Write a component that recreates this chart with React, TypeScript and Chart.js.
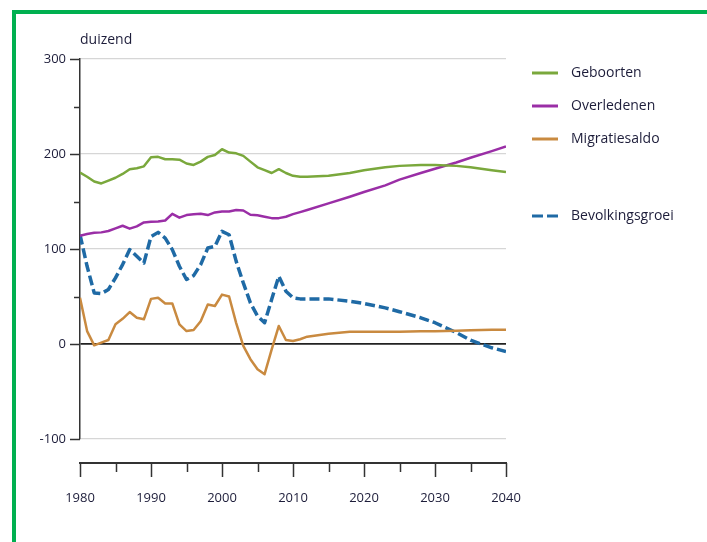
import React, { useEffect, useRef } from "react";
import { Chart, registerables } from "chart.js";

Chart.register(...registerables);

const years = [
  1980, 1981, 1982, 1983, 1984, 1985, 1986, 1987, 1988, 1989,
  1990, 1991, 1992, 1993, 1994, 1995, 1996, 1997, 1998, 1999,
  2000, 2001, 2002, 2003, 2004, 2005, 2006, 2007, 2008, 2009,
  2010, 2011, 2012, 2015, 2018, 2020, 2023, 2025, 2028, 2030,
  2033, 2035, 2038, 2040,
];

const geboorten = [
  180.5, 176, 171, 169, 172, 175, 179, 184, 185, 187,
  196.5, 197, 194.5, 194.5, 194, 190, 188.5, 192, 197, 199,
  205, 201.5, 200.7, 198, 192, 186, 183, 180, 184, 180,
  177, 176, 176, 177, 180, 183, 186, 187.5, 188.5, 188.5,
  187.5, 186, 183, 181,
];

const overledenen = [
  114, 115.7, 117, 117.5, 119, 121.7, 124.5, 121.4, 123.8, 128,
  128.7, 129, 130, 137, 133, 135.7, 136.5, 137, 135.7, 138.5,
  139.5, 139.5, 141, 140.5, 136, 135.5, 134, 132.5, 132.5, 134,
  136.7, 138.8, 141, 148, 155, 160, 167, 173, 180, 184.5,
  191, 196, 203, 208,
];

const migratiesaldo = [
  48.6, 13.6, -1.4, 1.4, 4.2, 20.7, 26.5, 33.6, 27.6, 26,
  47.5, 48.6, 42.7, 42.7, 20.7, 13.6, 14.7, 24, 41.6, 40,
  52, 50, 22, -2, -16, -26.5, -31.8, -5.6, 19, 4.2,
  3.1, 5, 7.7, 10.8, 13, 13, 13, 13, 13.5, 13.5,
  14, 14.5, 15, 15,
];

const bevolkingsgroei = [
  115, 81.8, 53.8, 53, 57.4, 69.6, 83.6, 99.4, 92.3, 85.3,
  113, 117.5, 111.5, 99.4, 81.8, 67.9, 72, 83.6, 101, 102.8,
  118.6, 115, 87, 64.3, 43.3, 29.4, 22.4, 47, 71.4, 55.6,
  48.6, 47.5, 47.5, 47.5, 45, 42.7, 38, 34, 27.6, 22.4,
  12, 4, -4, -8,
];

const seriesNames = ["Geboorten", "Overledenen", "Migratiesaldo", "Bevolkingsgroei"];
const colors = ["#7aa83c", "#9a2ea6", "#c98a40", "#1f6aa5"];
const yTicks = [-100, 0, 100, 200, 300];
const yMinorTicks = [50, 150, 250];
const xTicks = [1980, 1990, 2000, 2010, 2020, 2030, 2040];
const xMinorTicks = [1985, 1995, 2005, 2015, 2025, 2035];
const unitLabel = "duizend";

const TEXT = "#1d1d3a";
const FONT = "'Open Sans', sans-serif";

const toPoints = (vals: number[]) => years.map((y, i) => ({ x: y, y: vals[i] }));

const axesPlugin = {
  id: "customAxes",
  beforeDatasetsDraw(chart: any) {
    const { ctx, chartArea, scales } = chart;
    const xs = scales.x;
    const ys = scales.y;
    ctx.save();
    ctx.strokeStyle = "#333";
    ctx.lineWidth = 1.5;
    for (const v of yTicks) {
      const p = Math.round(ys.getPixelForValue(v)) + 0.5;
      ctx.beginPath();
      ctx.moveTo(chartArea.left - 10, p);
      ctx.lineTo(chartArea.left, p);
      ctx.stroke();
    }
    for (const v of yMinorTicks) {
      const p = Math.round(ys.getPixelForValue(v)) + 0.5;
      ctx.beginPath();
      ctx.moveTo(chartArea.left - 6, p);
      ctx.lineTo(chartArea.left, p);
      ctx.stroke();
    }
    const ax = chartArea.bottom + 24;
    ctx.lineWidth = 2;
    ctx.beginPath();
    ctx.moveTo(xs.getPixelForValue(1980) - 1, ax);
    ctx.lineTo(xs.getPixelForValue(2040) + 1, ax);
    ctx.stroke();
    ctx.lineWidth = 1.5;
    for (const v of xTicks) {
      const p = Math.round(xs.getPixelForValue(v)) + 0.5;
      ctx.beginPath();
      ctx.moveTo(p, ax);
      ctx.lineTo(p, ax + 14);
      ctx.stroke();
    }
    for (const v of xMinorTicks) {
      const p = Math.round(xs.getPixelForValue(v)) + 0.5;
      ctx.beginPath();
      ctx.moveTo(p, ax);
      ctx.lineTo(p, ax + 9);
      ctx.stroke();
    }
    ctx.fillStyle = TEXT;
    ctx.font = `14px ${FONT}`;
    ctx.textAlign = "left";
    ctx.textBaseline = "middle";
    ctx.fillText(unitLabel, chartArea.left, 40);
    ctx.restore();
  },
  afterDraw(chart: any) {
    const { ctx } = chart;
    const rows = [73, 106, 139, 216];
    ctx.save();
    ctx.font = `14px ${FONT}`;
    ctx.textBaseline = "middle";
    ctx.textAlign = "left";
    seriesNames.forEach((name, i) => {
      const y = rows[i];
      ctx.strokeStyle = colors[i];
      ctx.lineWidth = 3;
      ctx.beginPath();
      if (i === 3) {
        ctx.moveTo(532, y);
        ctx.lineTo(543, y);
        ctx.moveTo(547, y);
        ctx.lineTo(558, y);
      } else {
        ctx.moveTo(532, y);
        ctx.lineTo(558, y);
      }
      ctx.stroke();
      ctx.fillStyle = TEXT;
      ctx.fillText(name, 571, y);
    });
    ctx.restore();
  },
};

export default function App() {
  const ref = useRef<HTMLCanvasElement | null>(null);

  useEffect(() => {
    if (!ref.current) return;
    const seriesData = [geboorten, overledenen, migratiesaldo, bevolkingsgroei];
    const chart = new Chart(ref.current, {
      type: "line",
      data: {
        datasets: seriesData.map((vals, i) => ({
          label: seriesNames[i],
          data: toPoints(vals),
          borderColor: colors[i],
          backgroundColor: colors[i],
          borderWidth: i === 3 ? 3.5 : 2.5,
          borderDash: i === 3 ? [10, 4] : [],
          pointRadius: 0,
          tension: 0,
          borderJoinStyle: "round" as const,
          fill: false,
        })),
      },
      options: {
        animation: false,
        responsive: false,
        devicePixelRatio: 1,
        layout: { padding: { left: 0, top: 59, right: 201, bottom: 0 } },
        plugins: { legend: { display: false }, tooltip: { enabled: false } },
        scales: {
          x: {
            type: "linear",
            min: 1980,
            max: 2040,
            afterFit: (s: any) => {
              s.height = 103;
            },
            grid: { display: false, drawTicks: false },
            border: { display: false },
            ticks: {
              stepSize: 10,
              maxRotation: 0,
              autoSkip: false,
              padding: 51,
              color: TEXT,
              font: { family: FONT, size: 13 },
              callback: (v: any) => String(v),
            },
          },
          y: {
            type: "linear",
            min: -100,
            max: 300,
            afterFit: (s: any) => {
              s.width = 80;
            },
            grid: {
              drawTicks: false,
              color: (c: any) =>
                c.tick && c.tick.value === 0
                  ? "#222"
                  : c.tick && c.tick.value % 100 === 0
                  ? "#d6d6d6"
                  : "rgba(0,0,0,0)",
              lineWidth: (c: any) => (c.tick && c.tick.value === 0 ? 1.8 : 1.2),
            },
            border: { display: true, color: "#333", width: 1.5 },
            ticks: {
              stepSize: 50,
              padding: 14,
              color: TEXT,
              font: { family: FONT, size: 13 },
              callback: (v: any) => (Number(v) % 100 === 0 ? String(v) : ""),
            },
          },
        },
      },
      plugins: [axesPlugin],
    });
    return () => chart.destroy();
  }, []);

  return (
    <div style={{ position: "fixed", left: 0, top: 0, width: 707, height: 542, background: "#fff", overflow: "hidden" }}>
      <div
        style={{
          position: "absolute",
          left: 12,
          top: 10,
          width: 720,
          height: 560,
          borderTop: "4px solid #00b050",
          borderLeft: "4px solid #00b050",
          boxSizing: "border-box",
        }}
      />
      <canvas ref={ref} width={707} height={542} style={{ position: "absolute", left: 0, top: 0 }} />
    </div>
  );
}
